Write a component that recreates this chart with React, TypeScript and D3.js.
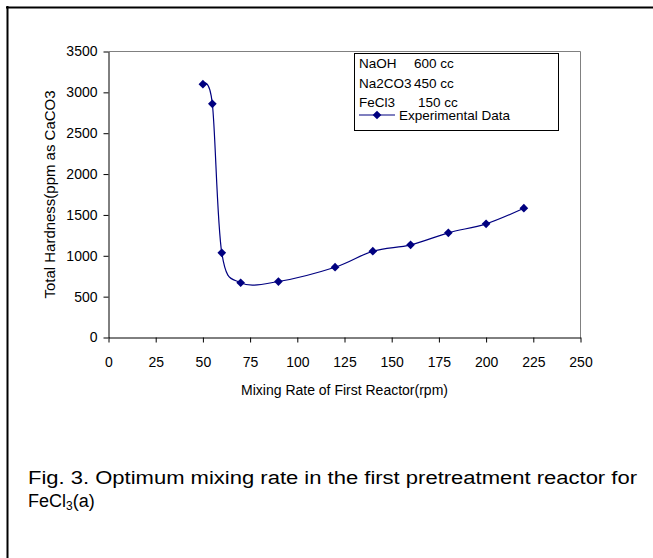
import React, { useEffect, useRef } from 'react'
import * as d3 from 'd3'

const mixingRate = [50, 55, 60, 70, 90, 120, 140, 160, 180, 200, 220]
const hardness = [3100, 2860, 1036, 670, 685, 860, 1056, 1134, 1281, 1391, 1582]
const xTicks = [0, 25, 50, 75, 100, 125, 150, 175, 200, 225, 250]
const yTicks = [0, 500, 1000, 1500, 2000, 2500, 3000, 3500]
const legendRows = [
  ['NaOH', '600 cc'],
  ['Na2CO3', '450 cc'],
  ['FeCl3', '150 cc'],
]
const seriesName = 'Experimental Data'

const W = 653
const H = 558
const FONT = 'Liberation Sans, Arial, sans-serif'
const NAVY = '#000080'

const App = () => {
  const xAxisRef = useRef<SVGGElement>(null)
  const yAxisRef = useRef<SVGGElement>(null)

  const x = d3.scaleLinear().domain([0, 250]).range([108.5, 580.5])
  const y = d3.scaleLinear().domain([0, 3500]).range([337.5, 51.5])

  const pts: [number, number][] = mixingRate.map((m, i) => [x(m), y(hardness[i])])
  const lineGen = d3.line().curve(d3.curveCardinal.tension(0))
  const diamond = d3.symbol().type(d3.symbolSquare).size(38)()

  useEffect(() => {
    const xa = d3.axisBottom(x).tickValues(xTicks).tickFormat(d3.format('d')).tickSize(5).tickSizeOuter(0).tickPadding(15)
    const ya = d3.axisLeft(y).tickValues(yTicks).tickFormat(d3.format('d')).tickSize(5).tickSizeOuter(0).tickPadding(6)

    const gx = d3.select(xAxisRef.current).call(xa)
    const gy = d3.select(yAxisRef.current).call(ya)
    ;[gx, gy].forEach((g) => {
      g.attr('font-family', FONT).attr('font-size', 14)
      g.selectAll('text').attr('fill', '#000')
      g.selectAll('line').attr('stroke', '#000')
      g.select('.domain').attr('stroke', '#000')
    })
  }, [])

  return (
    <svg width={W} height={H} style={{ position: 'absolute', left: 0, top: 0, background: '#fff' }}>
      <rect width={W} height={H} fill="#fff" />
      {/* outer frame: only top and left visible */}
      <line x1={6} x2={W} y1={7.5} y2={7.5} stroke="#000" strokeWidth={2} />
      <line x1={7.5} x2={7.5} y1={6} y2={H} stroke="#000" strokeWidth={2} />

      {/* plot area border (top / right) */}
      <line x1={x(0)} x2={x(250)} y1={y(3500)} y2={y(3500)} stroke="#808080" />
      <line x1={x(250)} x2={x(250)} y1={y(3500)} y2={y(0)} stroke="#808080" />

      <g ref={xAxisRef} transform={`translate(0,${y(0)})`} />
      <g ref={yAxisRef} transform={`translate(${x(0)},0)`} />

      <path d={lineGen(pts) || ''} fill="none" stroke={NAVY} strokeWidth={1.2} />
      {pts.map((p, i) => (
        <path key={i} d={diamond || ''} transform={`translate(${p[0]},${p[1]}) rotate(45)`} fill={NAVY} />
      ))}

      {/* legend */}
      <rect x={354.5} y={53.5} width={204} height={77} fill="#fff" stroke="#000" />
      {legendRows.map((r, i) => (
        <text key={i} y={68 + i * 20 - (i === 2 ? 1 : 0)} fontFamily={FONT} fontSize={13.5} fill="#000">
          <tspan x={359}>{r[0]}</tspan>
          <tspan x={i === 2 ? 418 : 414}>{r[1]}</tspan>
        </text>
      ))}
      <line x1={359} x2={395} y1={115} y2={115} stroke={NAVY} strokeWidth={1.2} />
      <path d={diamond || ''} transform="translate(377,115) rotate(45)" fill={NAVY} />
      <text x={399} y={120} fontFamily={FONT} fontSize={13.5} fill="#000">{seriesName}</text>

      {/* axis titles */}
      <text x={(x(0) + x(250)) / 2} y={395} textAnchor="middle" fontFamily={FONT} fontSize={14} fill="#000">
        Mixing Rate of First Reactor(rpm)
      </text>
      <text
        transform={`translate(55,${(y(0) + y(3500)) / 2}) rotate(-90)`}
        textAnchor="middle"
        fontFamily={FONT}
        fontSize={14}
        textLength={208}
        lengthAdjust="spacingAndGlyphs"
        fill="#000"
      >
        Total Hardness(ppm as CaCO3
      </text>

      {/* caption */}
      <text x={28} y={484} fontFamily={FONT} fontSize={18} fill="#000" textLength={609} lengthAdjust="spacingAndGlyphs">
        Fig. 3. Optimum mixing rate in the first pretreatment reactor for
      </text>
      <text x={28} y={507} fontFamily={FONT} fontSize={18} fill="#000">
        FeCl<tspan fontSize={12} dy={3}>3</tspan>
        <tspan dy={-3}>(a)</tspan>
      </text>
    </svg>
  )
}

export default App
